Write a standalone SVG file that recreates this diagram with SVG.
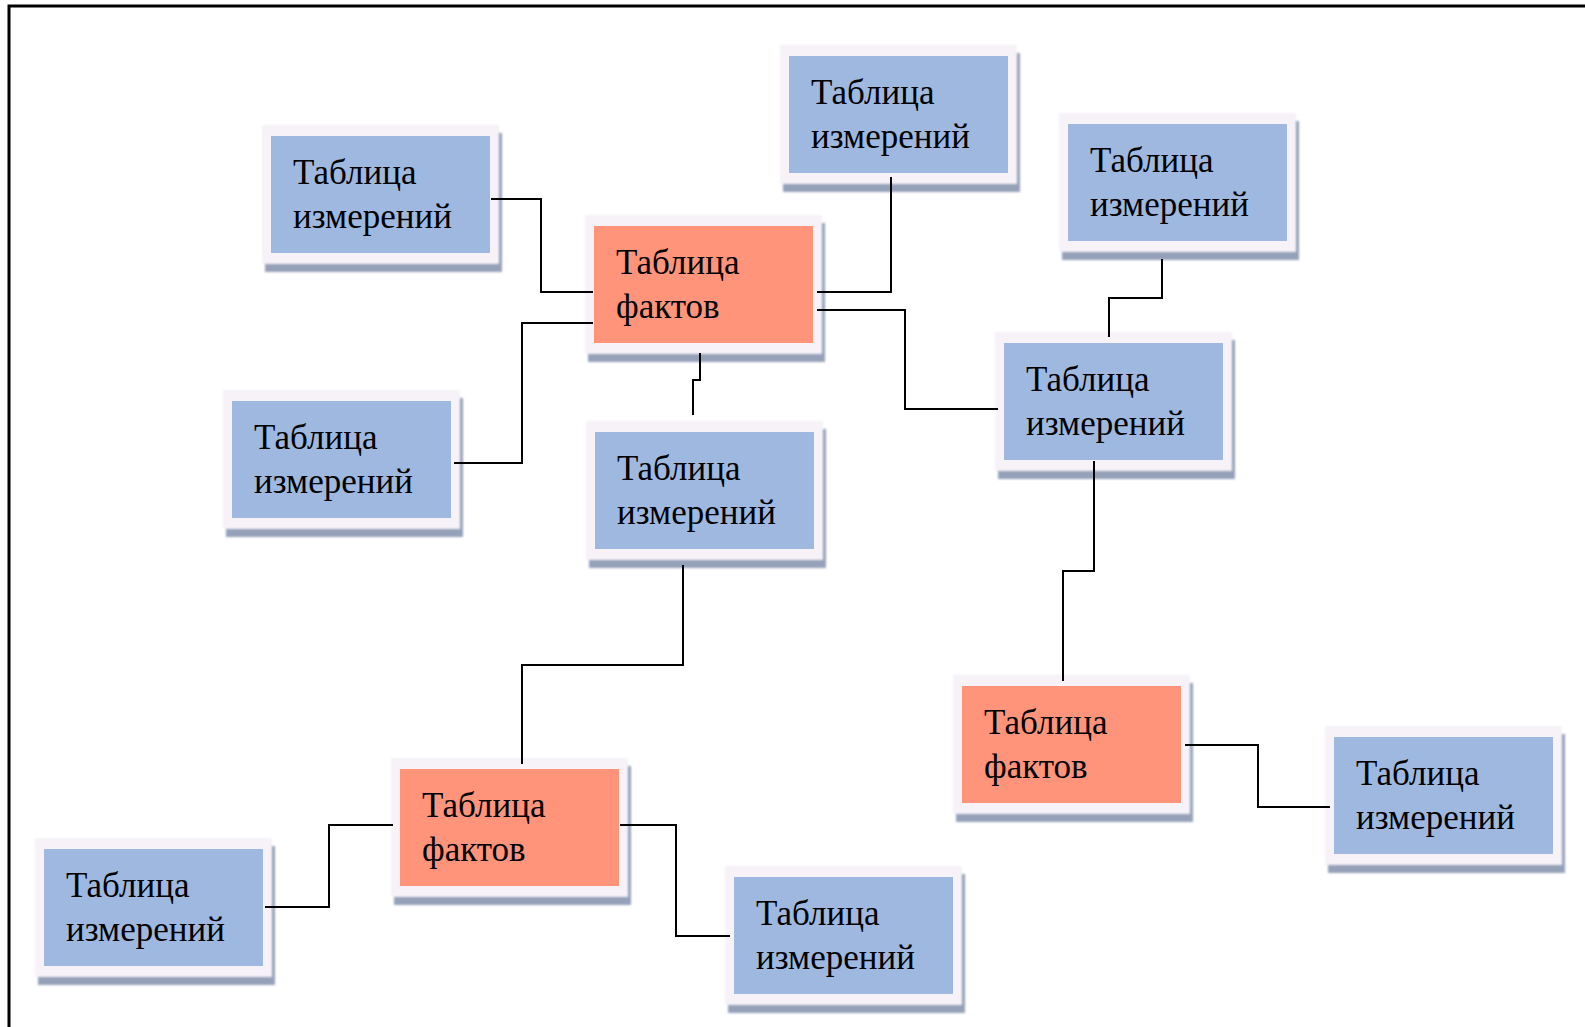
<svg xmlns="http://www.w3.org/2000/svg" width="1585" height="1027" viewBox="0 0 1585 1027">
<style>
.shadow{fill:#95a1b8;filter:url(#soft)}
.frame{fill:#f6f2f8;filter:url(#soft1)}
.dim{fill:#9fb8e0}
.fact{fill:#ff947a}
.lbl{font-family:"Liberation Serif","Times New Roman",serif;font-size:35px;fill:#000}
.conn{fill:none;stroke:#000;stroke-width:2}
</style>
<defs>
<filter id="soft" x="-5%" y="-5%" width="110%" height="110%"><feGaussianBlur stdDeviation="1.2"/></filter>
<filter id="soft1" x="-5%" y="-5%" width="110%" height="110%"><feGaussianBlur stdDeviation="0.8"/></filter>
<g id="dimBox">
<rect class="shadow" x="3" y="8" width="237" height="139"/>
<rect class="frame" x="0" y="0" width="237" height="139"/>
<rect class="dim" x="9" y="11" width="219" height="117"/>
</g>
<g id="factBox">
<rect class="shadow" x="3" y="8" width="237" height="139"/>
<rect class="frame" x="0" y="0" width="237" height="139"/>
<rect class="fact" x="9" y="11" width="219" height="117"/>
</g>
</defs>
<rect x="0" y="0" width="1585" height="1027" fill="#fff"/>
<path d="M9,1027 V6 H1585" fill="none" stroke="#000" stroke-width="3"/>

<g id="dim1" transform="translate(262,125)"><use href="#dimBox"/><text class="lbl" x="31" y="59">Таблица</text><text class="lbl" x="31" y="103">измерений</text></g>
<g id="dim2" transform="translate(780,45)"><use href="#dimBox"/><text class="lbl" x="31" y="59">Таблица</text><text class="lbl" x="31" y="103">измерений</text></g>
<g id="dim3" transform="translate(1059,113)"><use href="#dimBox"/><text class="lbl" x="31" y="59">Таблица</text><text class="lbl" x="31" y="103">измерений</text></g>
<g id="fact1" transform="translate(585,215)"><use href="#factBox"/><text class="lbl" x="31" y="59">Таблица</text><text class="lbl" x="31" y="103">фактов</text></g>
<g id="dim4" transform="translate(223,390)"><use href="#dimBox"/><text class="lbl" x="31" y="59">Таблица</text><text class="lbl" x="31" y="103">измерений</text></g>
<g id="dim5" transform="translate(586,421)"><use href="#dimBox"/><text class="lbl" x="31" y="59">Таблица</text><text class="lbl" x="31" y="103">измерений</text></g>
<g id="dim6" transform="translate(995,332)"><use href="#dimBox"/><text class="lbl" x="31" y="59">Таблица</text><text class="lbl" x="31" y="103">измерений</text></g>
<g id="fact2" transform="translate(953,675)"><use href="#factBox"/><text class="lbl" x="31" y="59">Таблица</text><text class="lbl" x="31" y="103">фактов</text></g>
<g id="dim7" transform="translate(1325,726)"><use href="#dimBox"/><text class="lbl" x="31" y="59">Таблица</text><text class="lbl" x="31" y="103">измерений</text></g>
<g id="fact3" transform="translate(391,758)"><use href="#factBox"/><text class="lbl" x="31" y="59">Таблица</text><text class="lbl" x="31" y="103">фактов</text></g>
<g id="dim8" transform="translate(35,838)"><use href="#dimBox"/><text class="lbl" x="31" y="59">Таблица</text><text class="lbl" x="31" y="103">измерений</text></g>
<g id="dim9" transform="translate(725,866)"><use href="#dimBox"/><text class="lbl" x="31" y="59">Таблица</text><text class="lbl" x="31" y="103">измерений</text></g>

<g id="connectors">
<path class="conn" d="M491,199 H541 V292 H593"/>
<path class="conn" d="M454,463 H522 V323 H593"/>
<path class="conn" d="M817,292 H891 V177"/>
<path class="conn" d="M817,310 H905 V409 H998"/>
<path class="conn" d="M1162,259 V298 H1109 V337"/>
<path class="conn" d="M700,353 V380 H693 V415"/>
<path class="conn" d="M683,565 V665 H522 V764"/>
<path class="conn" d="M393,825 H329 V907 H265"/>
<path class="conn" d="M620,825 H676 V936 H730"/>
<path class="conn" d="M1094,461 V571 H1063 V681"/>
<path class="conn" d="M1185,745 H1258 V807 H1330"/>
</g>
</svg>
